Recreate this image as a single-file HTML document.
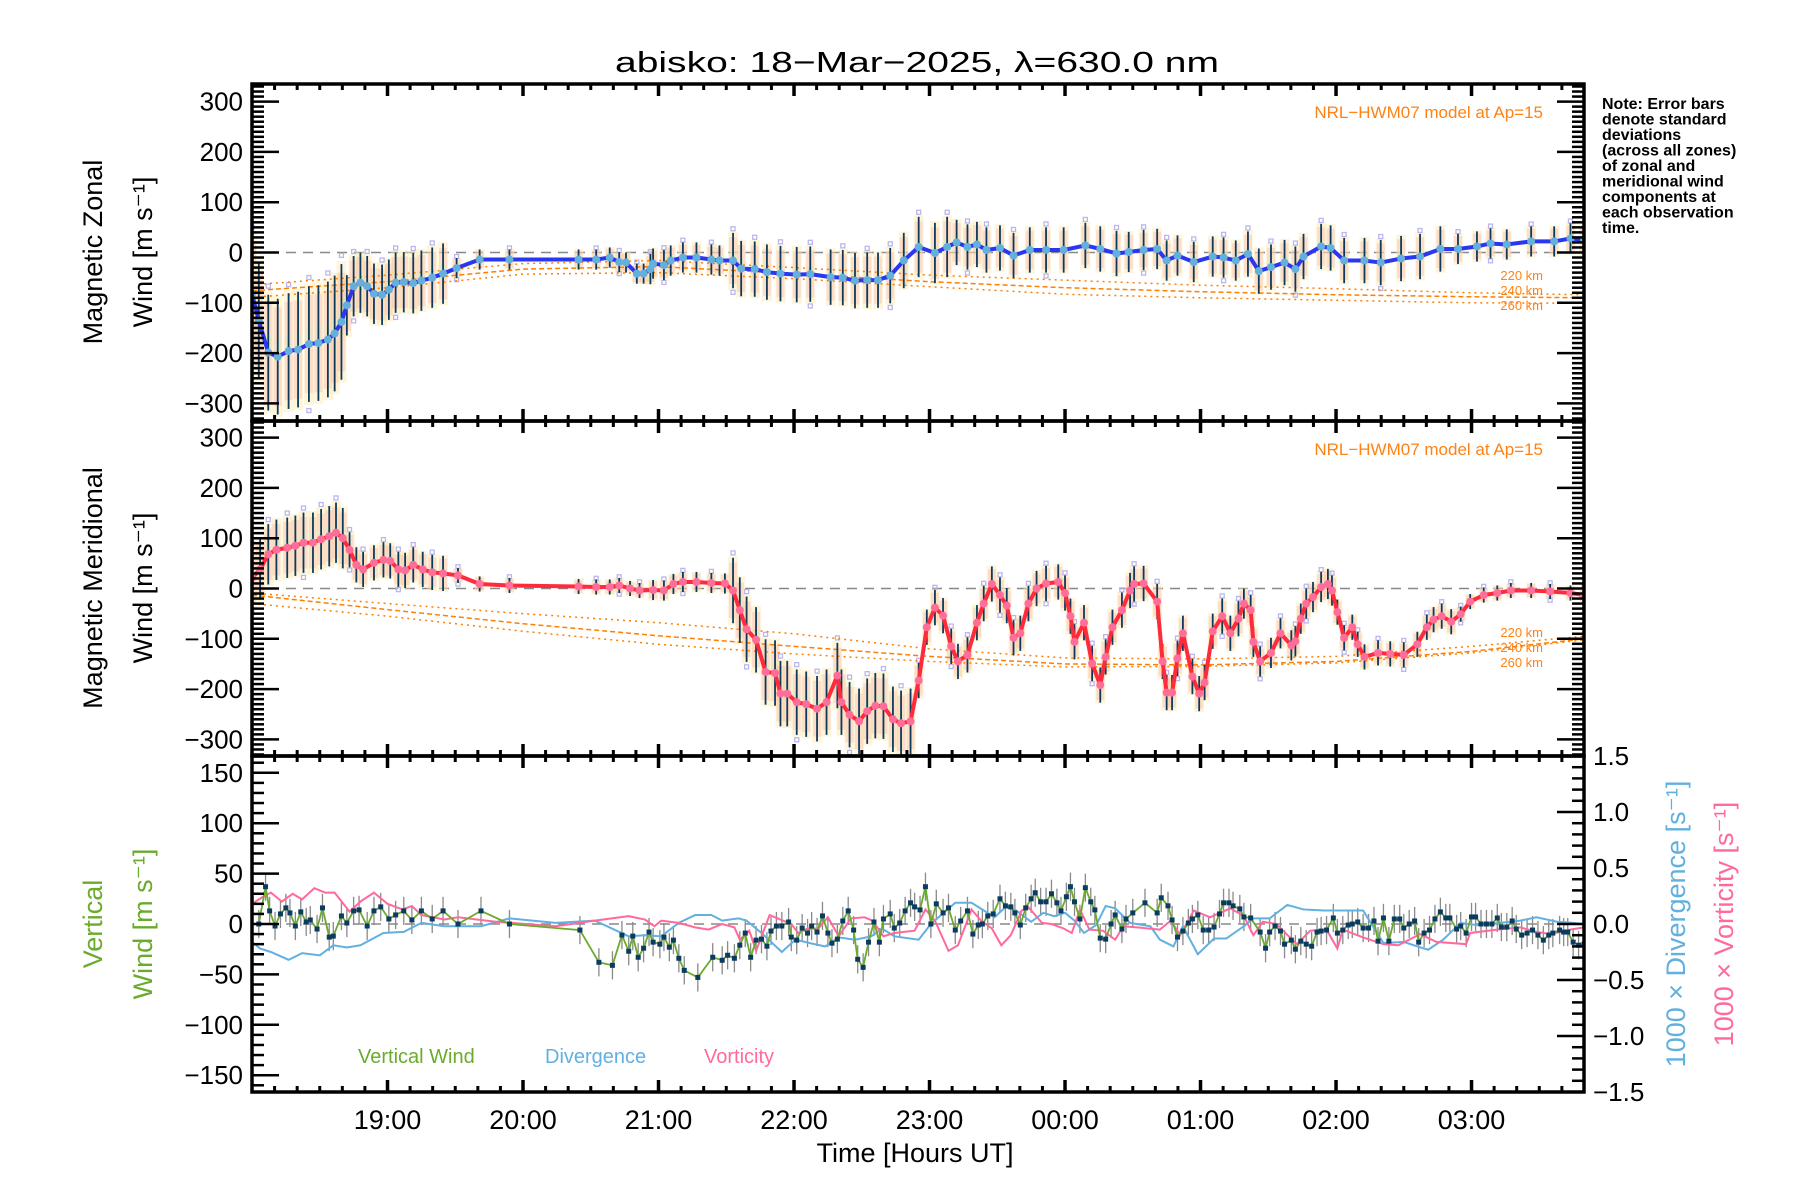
<!DOCTYPE html>
<html><head><meta charset="utf-8"><title>abisko winds</title>
<style>
html,body{margin:0;padding:0;background:#fff;}
svg{display:block;font-family:"Liberation Sans",sans-serif;}
</style></head>
<body>
<svg id="chart" xmlns="http://www.w3.org/2000/svg" width="1800" height="1200" viewBox="0 0 1800 1200">
<rect x="0" y="0" width="1800" height="1200" fill="#fff"/>
<text x="917" y="72" text-anchor="middle" font-size="29" textLength="604" lengthAdjust="spacingAndGlyphs">abisko: 18−Mar−2025, λ=630.0 nm</text>
<g id="layer"></g>
</svg>
<script>
// ---------- data ----------
const zonalHours=[18.0,18.05,18.12,18.19,18.27,18.34,18.42,18.49,18.56,18.61,18.66,18.70,18.75,18.80,18.85,18.90,18.96,19.01,19.06,19.12,19.19,19.25,19.33,19.41,19.51,19.68,19.90,20.41,20.54,20.64,20.71,20.76,20.84,20.89,20.94,20.96,21.04,21.09,21.18,21.28,21.39,21.45,21.55,21.61,21.71,21.80,21.90,22.02,22.12,22.27,22.36,22.45,22.54,22.62,22.71,22.81,22.92,23.04,23.13,23.20,23.28,23.35,23.42,23.52,23.62,23.74,23.86,23.99,24.15,24.26,24.38,24.47,24.58,24.68,24.75,24.83,24.95,25.09,25.17,25.26,25.35,25.43,25.52,25.62,25.70,25.76,25.89,25.96,26.06,26.21,26.33,26.48,26.62,26.77,26.90,27.04,27.14,27.26,27.44,27.61,27.73,27.83];
const zonalVals=[-82,-135,-199,-207,-196,-193,-182,-180,-173,-161,-138,-105,-67,-60,-67,-82,-84,-74,-60,-59,-61,-56,-50,-42,-31,-14,-14,-14,-14,-10,-19,-20,-42,-42,-33,-22,-25,-16,-10,-10,-14,-16,-16,-32,-33,-39,-42,-44,-43,-49,-50,-56,-55,-55,-46,-16,11,-1,11,20,11,16,5,9,-6,5,5,5,14,7,-2,1,5,7,-16,-6,-19,-8,-10,-16,-3,-37,-29,-20,-33,-8,12,9,-16,-16,-20,-12,-8,7,7,12,18,16,22,22,28,25];
const meridHours=[18.0,18.06,18.12,18.18,18.26,18.32,18.38,18.45,18.51,18.57,18.62,18.67,18.72,18.77,18.82,18.90,18.97,19.02,19.08,19.13,19.19,19.26,19.33,19.41,19.52,19.68,19.90,20.41,20.54,20.64,20.71,20.79,20.86,20.96,21.04,21.11,21.18,21.28,21.39,21.49,21.55,21.60,21.65,21.72,21.79,21.86,21.90,21.95,22.02,22.09,22.17,22.24,22.32,22.35,22.41,22.48,22.54,22.60,22.66,22.73,22.79,22.86,22.92,22.98,23.04,23.10,23.16,23.21,23.28,23.35,23.40,23.46,23.52,23.57,23.62,23.67,23.73,23.79,23.86,23.95,24.00,24.04,24.07,24.14,24.20,24.26,24.30,24.35,24.42,24.48,24.51,24.58,24.68,24.72,24.75,24.79,24.83,24.87,24.94,24.99,25.03,25.09,25.16,25.22,25.28,25.32,25.37,25.39,25.44,25.52,25.59,25.67,25.70,25.74,25.78,25.83,25.89,25.94,25.97,26.01,26.06,26.12,26.16,26.21,26.31,26.40,26.50,26.60,26.67,26.72,26.78,26.85,26.92,26.99,27.09,27.19,27.29,27.44,27.58,27.73,27.83];
const meridVals=[21,38,68,77,81,85,91,91,98,104,111,100,77,47,38,51,57,55,38,36,47,38,32,30,26,9,6,4,3,3,6,0,-4,-3,-4,9,13,13,11,10,-4,-43,-81,-102,-166,-168,-209,-209,-226,-230,-239,-226,-173,-226,-251,-264,-244,-233,-234,-260,-268,-264,-183,-77,-38,-54,-115,-145,-132,-68,-30,9,-13,-34,-98,-89,-30,0,10,13,-9,-55,-106,-68,-149,-192,-136,-77,-43,-4,9,10,-26,-145,-207,-207,-139,-89,-175,-209,-187,-85,-55,-89,-60,-30,-43,-106,-145,-128,-89,-113,-105,-60,-30,-17,3,9,-4,-47,-98,-77,-111,-136,-128,-130,-132,-111,-77,-62,-55,-66,-51,-26,-13,-9,-4,-4,-6,-9,-13];
const sigmaBreaks=[18,18.7,19.5,20.9,21.5,22.9,23.2,24.4,25.3,26.0,26.9,27.9];
const zonalSigma=[115,60,20,30,55,60,45,40,45,45,30];
const meridSigma=[60,35,15,20,65,35,35,35,30,25,15];
const modelHours=[18,19,20,21,22,23,24,25,26,27,27.83];
const zonal220=[-64,-45,-22,-16,-30,-45,-55,-65,-72,-80,-84];
const zonal240=[-76,-58,-33,-28,-42,-58,-70,-78,-84,-88,-90];
const zonal260=[-89,-70,-43,-40,-52,-68,-83,-90,-95,-100,-101];
const merid220=[-9,-30,-50,-68,-90,-120,-138,-140,-135,-115,-95];
const merid240=[-13,-42,-70,-94,-115,-135,-150,-152,-145,-125,-100];
const merid260=[-30,-55,-85,-111,-130,-145,-156,-155,-148,-128,-102];
const vertHours=[18.05,18.10,18.13,18.17,18.21,18.25,18.28,18.32,18.36,18.40,18.43,18.48,18.52,18.57,18.60,18.66,18.70,18.75,18.79,18.85,18.90,18.95,19.01,19.06,19.12,19.18,19.25,19.33,19.41,19.52,19.69,19.90,
20.42,20.56,20.66,20.73,20.78,20.81,20.85,20.89,20.93,20.96,21.01,21.04,21.08,21.11,21.15,21.19,21.29,21.40,21.47,21.51,21.56,21.60,21.64,21.68,21.72,21.76,21.80,21.83,21.87,21.91,21.96,21.98,22.02,22.06,22.10,22.13,22.17,22.21,22.25,22.28,22.32,22.36,22.40,22.44,22.47,22.51,22.55,22.59,22.63,22.66,22.71,22.74,22.78,22.82,22.86,22.89,22.93,22.97,23.01,23.05,23.10,23.14,23.19,23.23,23.28,23.32,23.36,23.39,23.43,23.47,23.52,23.56,23.60,23.63,23.67,23.71,23.75,23.78,23.82,23.86,23.90,23.94,23.97,24.01,
24.04,24.07,24.11,24.15,24.19,24.22,24.26,24.30,24.34,24.37,24.42,24.45,24.50,24.59,24.68,24.71,24.76,24.79,24.83,24.87,24.91,24.94,24.98,25.02,25.06,25.10,25.14,25.17,25.21,25.24,25.29,25.32,25.37,25.44,25.48,25.51,25.55,25.59,25.62,25.67,25.70,25.74,25.78,25.82,25.86,25.89,25.93,25.98,26.01,26.05,26.09,26.12,26.16,26.20,26.24,26.28,26.31,26.35,26.39,26.43,26.47,26.50,26.54,26.58,26.61,26.65,26.69,26.73,26.77,26.81,26.84,26.89,26.92,26.96,27.00,27.03,27.07,27.11,27.15,27.19,27.22,27.26,27.30,27.33,27.37,27.41,27.45,27.49,27.53,27.57,27.60,27.65,27.68,27.71,27.75,27.79,27.83];
const vertVals=[0,37,13,-2,10,16,11,-2,12,2,4,-5,16,-13,-12,8,1,13,14,-2,13,17,5,9,13,4,13,5,13,0,13,0,
-6,-38,-41,-11,-27,-12,-33,-24,-8,-18,-20,-13,-23,-16,-34,-46,-53,-33,-36,-31,-34,-21,-9,-33,-16,-15,-22,-7,-2,-2,2,-13,-16,-4,-9,-2,-8,8,-9,-19,-15,3,13,-6,-35,-43,-18,2,-18,5,10,-4,1,13,21,17,14,37,0,20,11,16,-6,3,13,-10,-1,0,8,10,25,18,17,11,-1,16,25,31,22,22,30,21,13,27,
37,22,5,36,22,14,-14,-15,0,9,-5,5,11,21,11,26,18,4,-13,-7,1,5,9,-6,-6,-3,10,21,21,18,15,7,6,-8,-24,-8,-2,-7,-20,-16,-25,-17,-20,-22,-8,-7,-6,6,-9,-6,-1,0,2,-4,-4,3,-17,6,-17,5,5,-4,0,3,-18,-9,-6,5,12,6,6,-5,-2,-9,7,7,0,0,0,6,-3,-3,3,-5,-11,-9,-6,-11,-16,-11,-9,-6,-8,-8,-18,-21,-20];
const vertErr=[14];
const divHours=[18.0,18.06,18.14,18.27,18.37,18.5,18.6,18.7,18.8,18.97,19.12,19.25,19.42,19.69,19.9,20.24,20.53,20.78,20.9,21.02,21.15,21.27,21.39,21.47,21.59,21.65,21.76,21.91,22.01,22.15,22.23,22.33,22.45,22.57,22.65,22.74,22.92,23.01,23.19,23.31,23.48,23.56,23.64,23.75,23.84,23.92,24.0,24.07,24.14,24.23,24.3,24.37,24.48,24.63,24.7,24.8,24.87,24.98,25.1,25.19,25.32,25.39,25.51,25.64,25.76,25.91,26.05,26.2,26.35,26.5,26.6,26.68,26.79,26.92,27.04,27.21,27.36,27.48,27.63,27.75,27.83];
const divVals=[-0.16,-0.22,-0.25,-0.32,-0.26,-0.28,-0.19,-0.21,-0.19,-0.08,-0.07,0.01,-0.02,-0.02,0.05,0.01,0.03,-0.11,-0.10,-0.11,0.01,0.08,0.08,0.03,0.05,0.03,-0.08,-0.25,-0.14,-0.18,-0.20,-0.12,-0.14,-0.11,-0.04,-0.11,-0.14,0.0,0.19,0.19,0.06,0.15,0.12,0.02,0.10,0.07,0.10,0.03,-0.08,-0.01,0.16,0.14,0.01,-0.02,-0.14,-0.20,-0.02,-0.27,-0.13,-0.13,-0.02,0.05,0.05,0.17,0.13,0.12,0.12,0.12,-0.17,-0.16,-0.20,-0.23,-0.14,0.01,-0.01,0.01,0.03,0.06,0.02,0.01,0.0];
const vortHours=[18.0,18.09,18.14,18.22,18.3,18.37,18.46,18.54,18.61,18.72,18.8,18.9,19.0,19.11,19.18,19.25,19.42,19.52,19.8,20.24,20.53,20.78,20.9,20.97,21.02,21.15,21.27,21.37,21.47,21.56,21.6,21.67,21.72,21.82,21.88,21.98,22.03,22.1,22.18,22.25,22.33,22.42,22.52,22.58,22.66,22.74,22.89,22.97,23.04,23.14,23.21,23.31,23.38,23.46,23.53,23.6,23.68,23.73,23.83,23.9,23.99,24.05,24.11,24.18,24.28,24.37,24.43,24.53,24.7,24.78,24.85,24.95,25.07,25.22,25.32,25.39,25.46,25.56,25.71,25.81,25.93,26.01,26.05,26.2,26.35,26.46,26.62,26.74,26.96,26.99,27.19,27.36,27.48,27.58,27.73,27.83];
const vortVals=[0.18,0.25,0.28,0.20,0.27,0.22,0.32,0.28,0.28,0.11,0.20,0.28,0.18,0.13,0.16,0.08,0.04,0.06,0.02,-0.02,0.03,0.07,0.04,-0.02,0.03,0.01,-0.03,-0.05,0.0,-0.03,-0.14,-0.06,-0.24,0.08,0.05,0.0,-0.08,-0.04,-0.04,0.06,-0.11,0.05,0.06,0.03,-0.11,-0.08,-0.06,0.13,0.03,-0.24,-0.19,0.13,0.03,-0.04,-0.19,-0.10,0.12,0.15,0.01,0.0,-0.04,-0.08,0.13,-0.05,-0.06,-0.14,-0.02,-0.03,-0.05,0.03,-0.10,0.12,0.06,0.14,0.07,-0.10,0.02,0.0,-0.18,-0.06,-0.05,-0.22,-0.05,-0.12,-0.18,-0.19,-0.09,-0.16,-0.18,-0.08,-0.05,-0.03,-0.07,-0.09,-0.05,-0.03];
const windTicks=[-300,-200,-100,0,100,200,300];
const vertTicks=[-150,-100,-50,0,50,100,150];
const rightTicks=[-1.5,-1.0,-0.5,0.0,0.5,1.0,1.5];
const timeTickHours=[19,20,21,22,23,24,25,26,27];
const timeTickLabels=["19:00","20:00","21:00","22:00","23:00","00:00","01:00","02:00","03:00"];
const noteLines=["Note: Error bars","denote standard","deviations","(across all zones)","of zonal and","meridional wind","components at","each observation","time."];

// ---------- geometry ----------
const NS="http://www.w3.org/2000/svg";
const layer=document.getElementById('layer');
const X0=252,X1=1584,H0=18.0,H1=27.83;
const P1={top:84,bot:421},P2={top:421,bot:756},P3={top:756,bot:1092};
function xs(h){return X0+(h-H0)/(H1-H0)*(X1-X0);}
function yWind(p,v){const c=(p.top+p.bot)/2;return c-v*0.503;}
function yVert(v){return 924-v*1.008;}
function yRight(v){return 924-v*112;}
function mk(tag,attrs,parent){const e=document.createElementNS(NS,tag);for(const k in attrs)e.setAttribute(k,attrs[k]);(parent||layer).appendChild(e);return e;}
function sigmaAt(h,arr){for(let i=0;i<arr.length;i++){if(h<sigmaBreaks[i+1])return arr[i];}return arr[arr.length-1];}

const defs=mk('defs',{});
[P1,P2,P3].forEach((p,i)=>{const c=mk('clipPath',{id:'clip'+i},defs);mk('rect',{x:X0,y:p.top,width:X1-X0,height:p.bot-p.top},c);});

function windPanel(p,idx,hours,vals,sig,lineCol,dotCol,m1,m2,m3,name){
  const g=mk('g',{'clip-path':'url(#clip'+idx+')'});
  
  
  const z=mk('line',{x1:X0,x2:X1,y1:yWind(p,0),y2:yWind(p,0),stroke:'#888','stroke-width':1.5,'stroke-dasharray':'10,7'},g);
  
  
  for(let i=0;i<hours.length;i++){
    const s=sigmaAt(hours[i],sig),x=xs(hours[i]),v=vals[i];
    const r1=mk('rect',{x:x-5,y:yWind(p,v+s*1.05),width:10,height:s*2.1*0.503,fill:'#fde9b0','fill-opacity':0.45},g);
    
    
    const r2=mk('rect',{x:x-4,y:yWind(p,v+s*0.85),width:8,height:s*1.7*0.503,fill:'#fbb9aa','fill-opacity':0.4},g);
    
    
    const r3=mk('rect',{x:x-3,y:yWind(p,v+s*0.3),width:6,height:s*0.35*0.503,fill:'#c8f2cc','fill-opacity':0.4},g);
    
    
  }
  for(let i=0;i<hours.length;i+=2){
    const s=sigmaAt(hours[i],sig),x=xs(hours[i]),v=vals[i];
    const q=mk('rect',{x:x-2,y:yWind(p,v+s*1.15)-2,width:4,height:4,fill:'none',stroke:'#bcb6ea','stroke-width':1.3},g);
    
    
    if(i%6===0){
      const q2=mk('rect',{x:x-2,y:yWind(p,v-s*1.15)-2,width:4,height:4,fill:'none',stroke:'#bcb6ea','stroke-width':1.3},g);
      
      
    }
  }
  [[m1,'2,4'],[m2,'5,3'],[m3,'2,4']].forEach((mm,k)=>{
    const pts=modelHours.map((h,i)=>xs(h)+','+yWind(p,mm[0][i])).join(' ');
    const pl=mk('polyline',{points:pts,fill:'none',stroke:'#ff7f00','stroke-width':1.5,'stroke-dasharray':mm[1]},g);
    
    
  });
  for(let i=0;i<hours.length;i++){
    const s=sigmaAt(hours[i],sig),x=xs(hours[i]),v=vals[i];
    const e=mk('line',{x1:x,x2:x,y1:yWind(p,v-s),y2:yWind(p,v+s),stroke:'#0d3a5c','stroke-width':1.8},g);
    
    
  }
  const pts=hours.map((h,i)=>xs(h)+','+yWind(p,vals[i])).join(' ');
  const ln=mk('polyline',{points:pts,fill:'none',stroke:lineCol,'stroke-width':4,'stroke-linejoin':'round'},g);
  
  
  for(let i=0;i<hours.length;i++){
    const c=mk('circle',{cx:xs(hours[i]),cy:yWind(p,vals[i]),r:4,fill:dotCol},g);
    
    
  }
}
windPanel(P1,0,zonalHours,zonalVals,zonalSigma,'#2b36f0','#63b0dc',zonal220,zonal240,zonal260,'zonal');
windPanel(P2,1,meridHours,meridVals,meridSigma,'#ff2a3a','#ff6d9a',merid220,merid240,merid260,'meridional');

(function(){
  const g=mk('g',{'clip-path':'url(#clip2)'});
  
  
  const z=mk('line',{x1:X0,x2:X1,y1:yVert(0),y2:yVert(0),stroke:'#888','stroke-width':1.5,'stroke-dasharray':'10,7'},g);
  
  
  for(let i=0;i<vertHours.length;i++){
    const x=xs(vertHours[i]),v=vertVals[i],e=vertErr[0];
    const b=mk('line',{x1:x,x2:x,y1:yVert(v-e),y2:yVert(v+e),stroke:'#8a8a8a','stroke-width':1.3},g);
    
    
  }
  const dp=divHours.map((h,i)=>xs(h)+','+yRight(divVals[i])).join(' ');
  const dl=mk('polyline',{points:dp,fill:'none',stroke:'#62b0e0','stroke-width':2},g);
  
  
  const vp=vortHours.map((h,i)=>xs(h)+','+yRight(vortVals[i])).join(' ');
  const vl=mk('polyline',{points:vp,fill:'none',stroke:'#ff6a9a','stroke-width':2},g);
  
  
  const wp=vertHours.map((h,i)=>xs(h)+','+yVert(vertVals[i])).join(' ');
  const wl=mk('polyline',{points:wp,fill:'none',stroke:'#6aab2c','stroke-width':1.8},g);
  
  
  for(let i=0;i<vertHours.length;i++){
    const s=mk('rect',{x:xs(vertHours[i])-2.5,y:yVert(vertVals[i])-2.5,width:5,height:5,fill:'#0b3b5e'},g);
    
    
  }
})();

function txt(x,y,s,attrs){const t=mk('text',Object.assign({x:x,y:y},attrs||{}));t.textContent=s;return t;}
function frame(p,name){
  const r=mk('rect',{x:X0,y:p.top,width:X1-X0,height:p.bot-p.top,fill:'none',stroke:'#000','stroke-width':3.5});
  
  
  for(let m=10;m<(H1-H0)*60;m+=10){
    const h=H0+m/60,x=xs(h),major=(m%60===0),L=major?12:6;
    [[p.top,p.top+L],[p.bot,p.bot-L]].forEach(yy=>{
      const t=mk('line',{x1:x,x2:x,y1:yy[0],y2:yy[1],stroke:'#000','stroke-width':major?3.5:3});
      
      
    });
  }
}
function yTicks(p,yf,lo,hi,minorStep,majors,left,right,labelFmt,labelX,anchor,name){
  const n=Math.round((hi-lo)/minorStep);
  for(let k=0;k<=n;k++){
    const v=lo+k*minorStep,y=yf(v);
    if(y<p.top+1||y>p.bot-1)continue;
    const isMaj=majors.some(m=>Math.abs(m-v)<1e-6),L=isMaj?27:12;
    if(left){const t=mk('line',{x1:X0,x2:X0+L,y1:y,y2:y,stroke:'#000','stroke-width':2.5});}
    if(right){const t=mk('line',{x1:X1,x2:X1-L,y1:y,y2:y,stroke:'#000','stroke-width':2.5});}
  }
  majors.forEach(v=>{
    const t=txt(labelX,yf(v)+9,labelFmt(v),{'font-size':26,'text-anchor':anchor});
    
    
  });
}
const fmtInt=v=>(v<0?'−':'')+Math.abs(v);
const fmtDec=v=>(v<0?'−':'')+Math.abs(v).toFixed(1);
frame(P1,'zonal');frame(P2,'meridional');frame(P3,'vertical');
yTicks(P1,v=>yWind(P1,v),-330,330,10,windTicks,true,true,fmtInt,243,'end','zonal-y');
yTicks(P2,v=>yWind(P2,v),-330,330,10,windTicks,true,true,fmtInt,243,'end','meridional-y');
yTicks(P3,yVert,-160,160,10,vertTicks,true,false,fmtInt,243,'end','vertical-y');
yTicks(P3,yRight,-1.5,1.5,0.1,rightTicks,false,true,fmtDec,1593,'start','ratio-y');
timeTickHours.forEach((h,i)=>{
  const t=txt(xs(h),1129,timeTickLabels[i],{'font-size':27,'text-anchor':'middle'});
  
  
});
const xt=txt(915,1162,'Time [Hours UT]',{'font-size':27,'text-anchor':'middle'});



function vtitle(x,y,s,col,name){
  const t=txt(x,y,s,{'font-size':27,'text-anchor':'middle',fill:col,transform:'rotate(-90 '+x+' '+y+')'});
  
  
}
vtitle(102,252,'Magnetic Zonal','#000','zonal-y-title');
vtitle(152,252,'Wind [m s⁻¹]','#000','zonal-y-units');
vtitle(102,588,'Magnetic Meridional','#000','meridional-y-title');
vtitle(152,588,'Wind [m s⁻¹]','#000','meridional-y-units');
vtitle(102,924,'Vertical','#6aab2c','vertical-y-title');
vtitle(152,924,'Wind [m s⁻¹]','#6aab2c','vertical-y-units');
vtitle(1685,924,'1000 × Divergence [s⁻¹]','#62b0e0','divergence-axis-title');
vtitle(1733,924,'1000 × Vorticity [s⁻¹]','#ff6a9a','vorticity-axis-title');

[[P1,'zonal'],[P2,'meridional']].forEach(pp=>{
  const p=pp[0],off=p.top;
  const t=txt(1543,off+34,'NRL−HWM07 model at Ap=15',{'font-size':17,'text-anchor':'end',fill:'#ff8214'});
  
  
  ['220 km','240 km','260 km'].forEach((s,k)=>{
    const yy=(pp[1]==='zonal'?280:637)+k*15;
    const l=txt(1543,yy,s,{'font-size':13,'text-anchor':'end',fill:'#ff8214'});
    
    
  });
});
[['Vertical Wind',358,'#6aab2c','legend-vertical-wind'],['Divergence',545,'#62b0e0','legend-divergence'],['Vorticity',704,'#ff6a9a','legend-vorticity']].forEach(l=>{
  const t=txt(l[1],1063,l[0],{'font-size':20,fill:l[2]});
  
  
});
noteLines.forEach((s,i)=>{
  const t=txt(1602,109+i*15.5,s,{'font-size':16,'font-weight':'bold'});
  
  
});
</script>
</body></html>
